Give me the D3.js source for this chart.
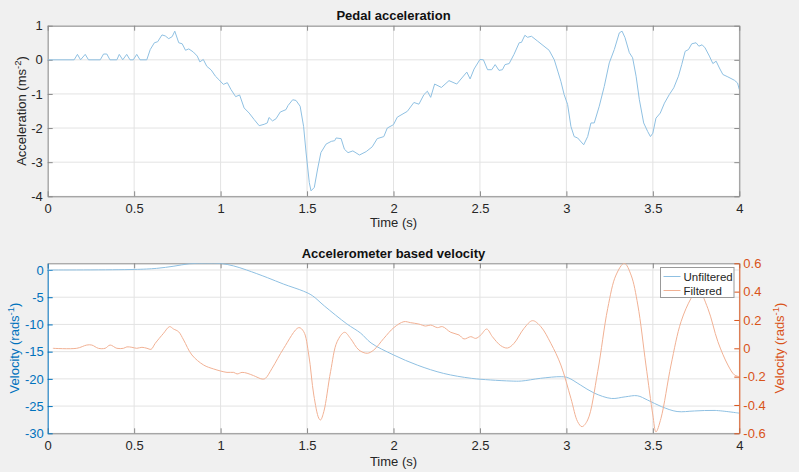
<!DOCTYPE html>
<meta charset="utf-8">
<style>

body {
  margin: 0;
  background: #f0f0f0;
  font-family: "Liberation Sans", Arial, sans-serif;
}

.grid line {
  stroke: #e3e3e3;
  stroke-width: 1;
}

.title {
  font-size: 13px;
  font-weight: bold;
  fill: #111;
}

.label {
  font-size: 13px;
  fill: #262626;
}

</style>
<body>
<script src="https://cdn.jsdelivr.net/npm/d3@7"></script>
<script>

// pedal acceleration (top panel)
var accTime = [0, 0.153, 0.172, 0.19, 0.217, 0.236, 0.304, 0.323, 0.342, 0.36, 0.40, 0.414, 0.434, 0.457, 0.476, 0.495,
  0.515, 0.534, 0.573, 0.593, 0.617, 0.636, 0.661, 0.68, 0.70, 0.72, 0.735, 0.758, 0.778, 0.797, 0.816, 0.842,
  0.865, 0.88, 0.90, 0.92, 0.946, 0.97, 0.99, 1.016, 1.039, 1.06, 1.087, 1.11, 1.136, 1.165, 1.194, 1.223,
  1.252, 1.27, 1.28, 1.30, 1.32, 1.345, 1.378, 1.39, 1.417, 1.436, 1.46, 1.48, 1.494, 1.513, 1.523, 1.542,
  1.561, 1.58, 1.61, 1.64, 1.66, 1.668, 1.697, 1.716, 1.737, 1.765, 1.803, 1.842, 1.877, 1.906, 1.944, 1.964,
  2.0, 2.022, 2.08, 2.118, 2.147, 2.176, 2.196, 2.215, 2.238, 2.277, 2.321, 2.366, 2.424, 2.443, 2.466, 2.5,
  2.52, 2.544, 2.568, 2.588, 2.61, 2.63, 2.645, 2.669, 2.697, 2.727, 2.74, 2.76, 2.775, 2.798, 2.833, 2.9,
  2.93, 2.95, 2.968, 2.987, 3.007, 3.026, 3.045, 3.065, 3.1, 3.123, 3.142, 3.161, 3.19, 3.219, 3.248, 3.277,
  3.306, 3.322, 3.339, 3.364, 3.383, 3.403, 3.422, 3.447, 3.47, 3.486, 3.5, 3.518, 3.543, 3.567, 3.595, 3.621,
  3.648, 3.667, 3.687, 3.706, 3.725, 3.75, 3.766, 3.785, 3.802, 3.827, 3.847, 3.866, 3.885, 3.905, 3.934, 3.972,
  3.99, 4.0];
var accValue = [0, 0, 0.16, 0, 0.16, 0, 0, 0.17, 0.17, 0, 0, 0.16, 0, 0.16, 0, 0,
  0.16, 0, 0, 0.3, 0.5, 0.53, 0.73, 0.7, 0.62, 0.68, 0.84, 0.5, 0.47, 0.28, 0.32, 0.23,
  0.11, -0.06, 0.01, -0.19, -0.3, -0.48, -0.58, -0.72, -0.67, -0.87, -1.08, -1.03, -1.41, -1.56, -1.75, -1.93,
  -1.89, -1.85, -1.69, -1.79, -1.73, -1.53, -1.46, -1.34, -1.17, -1.19, -1.36, -1.95, -2.7, -3.6, -3.84, -3.74,
  -3.2, -2.72, -2.47, -2.39, -2.37, -2.29, -2.31, -2.62, -2.72, -2.67, -2.79, -2.69, -2.55, -2.31, -2.25, -2.0,
  -1.9, -1.68, -1.51, -1.25, -1.3, -1.02, -0.92, -1.1, -0.71, -0.81, -0.61, -0.71, -0.36, -0.56, -0.27, 0.01,
  0, -0.29, -0.29, -0.14, -0.31, -0.29, -0.14, -0.11, 0.16, 0.5, 0.51, 0.72, 0.66, 0.69, 0.55, 0.28,
  0, -0.33, -0.63, -1.02, -1.31, -1.95, -2.25, -2.29, -2.49, -2.25, -1.85, -1.85, -1.36, -0.78, -0.09, 0.30,
  0.79, 0.84, 0.65, 0.21, 0.06, -0.48, -1.17, -1.85, -2.1, -2.25, -2.15, -1.71, -1.56, -1.27, -1.02, -0.82,
  -0.48, -0.14, 0.25, 0.30, 0.47, 0.5, 0.4, 0.44, 0.35, 0.11, -0.11, -0.04, -0.24, -0.43, -0.5, -0.6,
  -0.68, -0.87];

// accelerometer based velocity (bottom panel, left axis)
var velTime = [0, 0.5, 0.63, 0.73, 0.82, 0.92, 1.0, 1.075, 1.15, 1.27, 1.365, 1.48, 1.53, 1.6, 1.73, 1.81,
  1.87, 2.0, 2.14, 2.29, 2.45, 2.56, 2.68, 2.74, 2.85, 2.97, 3.01, 3.08, 3.16, 3.26, 3.34, 3.41,
  3.47, 3.55, 3.64, 3.74, 3.86, 4.0];
var velUnfiltered = [0, 0.1, 0.3, 0.7, 1.15, 1.25, 1.2, 0.75, 0, -1.4, -2.6, -3.9, -4.7, -6.6, -9.9, -11.6,
  -13.4, -15.6, -17.5, -19.0, -19.9, -20.2, -20.4, -20.4, -19.9, -19.6, -19.8, -21.1, -22.6, -23.6, -23.3, -23.1,
  -23.9, -25.1, -26.0, -25.9, -25.8, -26.3];

// filtered velocity (bottom panel, right axis)
var filtTime = [0.03, 0.168, 0.226, 0.255, 0.293, 0.332, 0.361, 0.40, 0.438, 0.458, 0.487, 0.515, 0.545, 0.574, 0.598, 0.622,
  0.67, 0.705, 0.728, 0.757, 0.786, 0.834, 0.902, 0.96, 1.037, 1.076, 1.095, 1.124, 1.153, 1.191, 1.24, 1.259,
  1.298, 1.365, 1.452, 1.481, 1.51, 1.539, 1.568, 1.578, 1.597, 1.636, 1.674, 1.717, 1.751, 1.8, 1.848, 1.886,
  1.944, 2.002, 2.06, 2.099, 2.147, 2.186, 2.215, 2.254, 2.283, 2.331, 2.379, 2.408, 2.447, 2.476, 2.505, 2.539,
  2.572, 2.62, 2.659, 2.697, 2.755, 2.804, 2.852, 2.91, 2.968, 3.026, 3.065, 3.09, 3.123, 3.181, 3.239, 3.287,
  3.335, 3.374, 3.413, 3.46, 3.5, 3.518, 3.547, 3.605, 3.663, 3.721, 3.76, 3.818, 3.876, 3.934, 3.972, 4.0];
var filtValue = [0, 0, 0.023, 0.023, 0, 0, 0.023, 0, 0, 0.01, 0.007, 0, 0.007, 0, -0.007, 0.035,
  0.106, 0.153, 0.136, 0.117, 0.059, -0.047, -0.118, -0.146, -0.17, -0.17, -0.181, -0.17, -0.176, -0.193, -0.217, -0.212,
  -0.141, 0, 0.146, 0.117, -0.047, -0.33, -0.494, -0.506, -0.447, -0.165, 0.047, 0.113, 0.07, -0.012, -0.035, -0.012,
  0.07, 0.146, 0.188, 0.181, 0.171, 0.157, 0.164, 0.146, 0.153, 0.113, 0.094, 0.066, 0.082, 0.07, 0.094, 0.136,
  0.082, 0.019, 0.002, 0.035, 0.141, 0.195, 0.153, 0.035, -0.118, -0.353, -0.518, -0.553, -0.506, -0.165, 0.282, 0.517,
  0.6, 0.517, 0.306, -0.118, -0.471, -0.59, -0.494, -0.118, 0.188, 0.353, 0.42, 0.282, 0.047, -0.118, -0.188, -0.2];

var xTicks = [0, 0.5, 1, 1.5, 2, 2.5, 3, 3.5, 4];
var accTicks = [1, 0, -1, -2, -3, -4];
var velTicks = [0, -5, -10, -15, -20, -25, -30];
var filtTicks = [0.6, 0.4, 0.2, 0, -0.2, -0.4, -0.6];
var legendNames = ["Unfiltered", "Filtered"];

var blue = "#0072bd", orange = "#d95319";
var lineBlue = "#8fc0e2", lineOrange = "#f1b194";
var boxColor = "#8a8a8a", textColor = "#262626";

var W = 799, H = 472,
    left = 47.7, right = 739.3;

// plain hyphen minus, like matlab
var fmt = function(d) { return String(d); };

var svg = d3.select("body").append("svg")
    .attr("width", W)
    .attr("height", H);

var x = d3.scaleLinear().domain([0, 4]).range([left, right]);

var defs = svg.append("defs");

function panel(top, bottom, id) {
  defs.append("clipPath").attr("id", id)
    .append("rect")
      .attr("x", left).attr("y", top)
      .attr("width", right - left).attr("height", bottom - top);
  var g = svg.append("g");
  g.append("rect")
      .attr("x", left).attr("y", top)
      .attr("width", right - left).attr("height", bottom - top)
      .attr("fill", "#fff");
  return g;
}

function styleAxis(sel, color) {
  sel.attr("font-size", 13)
     .attr("font-family", "'Liberation Sans', Arial, sans-serif");
  sel.select(".domain").attr("stroke", color);
  sel.selectAll(".tick line").attr("stroke", color);
  sel.selectAll(".tick text").attr("fill", color);
}

function xAxes(g, top, bottom, tickColor) {
  // grid
  g.append("g").attr("class", "grid")
    .selectAll("line").data(xTicks).enter().append("line")
      .attr("x1", x).attr("x2", x).attr("y1", top).attr("y2", bottom);

  g.append("g")
      .attr("transform", "translate(0," + bottom + ")")
      .call(d3.axisBottom(x).tickValues(xTicks).tickFormat(fmt).tickSizeInner(-5).tickSizeOuter(0).tickPadding(7))
      .call(styleAxis, tickColor);
  g.append("g")
      .attr("transform", "translate(0," + top + ")")
      .call(d3.axisTop(x).tickValues(xTicks).tickFormat("").tickSizeInner(-5).tickSizeOuter(0))
      .call(styleAxis, tickColor);
}

function superLabel(g, tx, ty, main, sup, color) {
  var t = g.append("text")
      .attr("class", "label")
      .attr("transform", "translate(" + tx + "," + ty + ") rotate(-90)")
      .attr("text-anchor", "middle")
      .style("fill", color);
  t.append("tspan").text(main);
  t.append("tspan").attr("dy", -5).style("font-size", "9.5px").text(sup);
  t.append("tspan").attr("dy", 5).text(")");
}

//
// top panel: pedal acceleration
var top1 = 25.7, bot1 = 196.3;
var yAcc = d3.scaleLinear().domain([-4, 1]).range([bot1, top1]);
var g1 = panel(top1, bot1, "clip1");

g1.append("g").attr("class", "grid")
  .selectAll("line").data(accTicks).enter().append("line")
    .attr("x1", left).attr("x2", right).attr("y1", yAcc).attr("y2", yAcc);

xAxes(g1, top1, bot1, boxColor);

g1.append("g")
    .attr("transform", "translate(" + left + ",0)")
    .call(d3.axisLeft(yAcc).tickValues(accTicks).tickFormat(fmt).tickSizeInner(-5).tickSizeOuter(0).tickPadding(5))
    .call(styleAxis, boxColor);
g1.append("g")
    .attr("transform", "translate(" + right + ",0)")
    .call(d3.axisRight(yAcc).tickValues(accTicks).tickFormat("").tickSizeInner(-5).tickSizeOuter(0))
    .call(styleAxis, boxColor);
g1.selectAll(".tick text").attr("fill", textColor);

g1.append("path")
    .datum(d3.range(accTime.length))
    .attr("clip-path", "url(#clip1)")
    .attr("fill", "none")
    .attr("stroke", lineBlue)
    .attr("stroke-width", 1)
    .attr("d", d3.line().x(function(i) { return x(accTime[i]); }).y(function(i) { return yAcc(accValue[i]); }));

g1.append("text").attr("class", "title")
    .attr("x", (left + right) / 2).attr("y", 20)
    .attr("text-anchor", "middle")
    .text("Pedal acceleration");
g1.append("text").attr("class", "label")
    .attr("x", (left + right) / 2).attr("y", 227)
    .attr("text-anchor", "middle")
    .text("Time (s)");
superLabel(g1, 26, 111, "Acceleration (ms", "-2", textColor);

//
// bottom panel: velocity with two y axes
var top2 = 263.3, bot2 = 433.3;
var yVel = d3.scaleLinear().domain([-30, 1.23]).range([bot2, top2]);
var yFilt = d3.scaleLinear().domain([-0.6, 0.6]).range([bot2, top2]);
var g2 = panel(top2, bot2, "clip2");

g2.append("g").attr("class", "grid")
  .selectAll("line").data(velTicks).enter().append("line")
    .attr("x1", left).attr("x2", right).attr("y1", yVel).attr("y2", yVel);

xAxes(g2, top2, bot2, boxColor);
g2.selectAll(".tick text").attr("fill", textColor);

g2.append("g")
    .attr("transform", "translate(" + left + ",0)")
    .call(d3.axisLeft(yVel).tickValues(velTicks).tickFormat(fmt).tickSizeInner(-5).tickSizeOuter(0).tickPadding(4))
    .call(styleAxis, blue);
g2.append("g")
    .attr("transform", "translate(" + right + ",0)")
    .call(d3.axisRight(yFilt).tickValues(filtTicks).tickFormat(fmt).tickSizeInner(-5).tickSizeOuter(0).tickPadding(4))
    .call(styleAxis, orange);

var smooth = d3.curveCatmullRom.alpha(0.5);

g2.append("path")
    .datum(d3.range(velTime.length))
    .attr("clip-path", "url(#clip2)")
    .attr("fill", "none")
    .attr("stroke", lineBlue)
    .attr("stroke-width", 1)
    .attr("d", d3.line().curve(smooth).x(function(i) { return x(velTime[i]); }).y(function(i) { return yVel(velUnfiltered[i]); }));

g2.append("path")
    .datum(d3.range(filtTime.length))
    .attr("clip-path", "url(#clip2)")
    .attr("fill", "none")
    .attr("stroke", lineOrange)
    .attr("stroke-width", 1)
    .attr("d", d3.line().curve(smooth).x(function(i) { return x(filtTime[i]); }).y(function(i) { return yFilt(filtValue[i]); }));

g2.append("text").attr("class", "title")
    .attr("x", (left + right) / 2).attr("y", 258)
    .attr("text-anchor", "middle")
    .text("Accelerometer based velocity");
g2.append("text").attr("class", "label")
    .attr("x", (left + right) / 2).attr("y", 466)
    .attr("text-anchor", "middle")
    .text("Time (s)");
superLabel(g2, 19, 348, "Velocity (rads", "-1", blue);
superLabel(g2, 784, 348, "Velocity (rads", "-1", orange);

// legend
var legend = g2.append("g").attr("transform", "translate(660.5,267.5)");
legend.append("rect")
    .attr("width", 73.5).attr("height", 30)
    .attr("fill", "#fff")
    .attr("stroke", "#999");
var item = legend.selectAll(".legend")
    .data(legendNames)
  .enter().append("g")
    .attr("transform", function(d, i) { return "translate(0," + (9 + i * 14) + ")"; });
item.append("line")
    .attr("x1", 3).attr("x2", 20)
    .attr("stroke", function(d, i) { return i ? lineOrange : lineBlue; });
item.append("text")
    .attr("x", 23).attr("dy", ".35em")
    .style("font-size", "11.5px")
    .attr("fill", textColor)
    .text(function(d) { return d; });

</script>
